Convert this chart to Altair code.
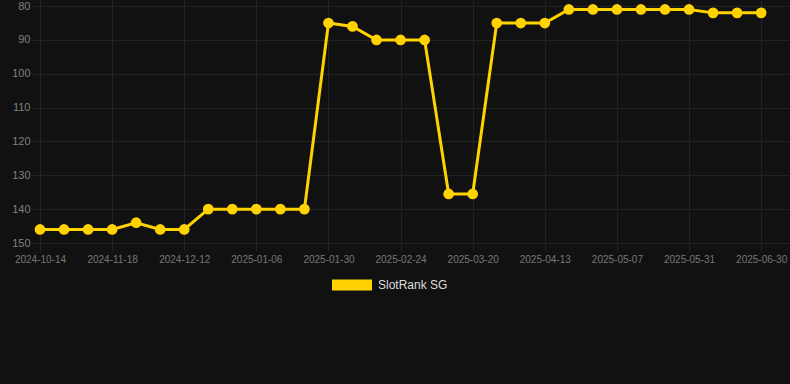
import altair as alt
import pandas as pd

# ---- data ----
dates = [
    "2024-10-14", "2024-10-26", "2024-11-06", "2024-11-18", "2024-11-26",
    "2024-12-04", "2024-12-12", "2024-12-20", "2024-12-28", "2025-01-06",
    "2025-01-14", "2025-01-22", "2025-01-30", "2025-02-07", "2025-02-15",
    "2025-02-24", "2025-03-04", "2025-03-12", "2025-03-20", "2025-03-28",
    "2025-04-05", "2025-04-13", "2025-04-21", "2025-04-29", "2025-05-07",
    "2025-05-15", "2025-05-23", "2025-05-31", "2025-06-10", "2025-06-20",
    "2025-06-30",
]
ranks = [
    146, 146, 146, 146, 144, 146, 146, 140, 140, 140,
    140, 140, 85, 86, 90, 90, 90, 135.5, 135.5, 85,
    85, 85, 81, 81, 81, 81, 81, 81, 82, 82,
    82,
]
series_name = "SlotRank SG"
y_ticks = [80, 90, 100, 110, 120, 130, 140, 150]
x_tick_index = list(range(0, len(dates), 3))

df = pd.DataFrame({
    "i": list(range(len(dates))),
    "date": dates,
    "rank": ranks,
    "series": [series_name] * len(dates),
})

YELLOW = "#FFD200"
FONT = "Liberation Sans"

label_expr = "[" + ",".join(f"'{d}'" for d in dates) + "][datum.value]"

x = alt.X(
    "i:Q",
    scale=alt.Scale(domain=[0, 31.2], nice=False, zero=False),
    axis=alt.Axis(values=x_tick_index, labelExpr=label_expr, title=None,
                  labelFontSize=10, labelPadding=3, labelOverlap=False,
                  labelFlush=False, labelBound=False),
)
y = alt.Y(
    "rank:Q",
    scale=alt.Scale(domain=[78.2, 150], reverse=True, nice=False, zero=False),
    axis=alt.Axis(values=y_ticks, title=None, labelFontSize=11, labelPadding=2,
                  labelOverlap=False, labelFlush=False, labelColor="#808080"),
)

base = alt.Chart(df).encode(x=x, y=y)
line = base.mark_line(color=YELLOW, strokeWidth=3)
pts = base.mark_circle(size=115, opacity=1).encode(
    color=alt.Color(
        "series:N",
        scale=alt.Scale(range=[YELLOW]),
        legend=alt.Legend(
            title=None,
            orient="none",
            legendX=292,
            legendY=265,
            padding=0,
            symbolType="M-1,-0.275L1,-0.275L1,0.275L-1,0.275Z",
            symbolSize=1600,
            symbolStrokeWidth=0,
            symbolOpacity=1,
            labelFontSize=12,
            labelColor="#dddddd",
            labelFont=FONT,
            labelOffset=6,
        ),
    )
)

chart = (
    (line + pts)
    .properties(
        width=750,
        height=243,
        autosize=alt.AutoSizeParams(type="none"),
        padding={"left": 40, "top": 0, "right": 0, "bottom": 141},
        background="#111111",
    )
    .configure_view(stroke=None)
    .configure_axis(
        domain=False,
        grid=True,
        gridColor="#222222",
        gridWidth=1,
        tickColor="#222222",
        tickSize=8,
        labelColor="#777777",
        labelFont=FONT,
    )
)

chart.save("out.html", embed_options={"renderer": "svg", "actions": False})
